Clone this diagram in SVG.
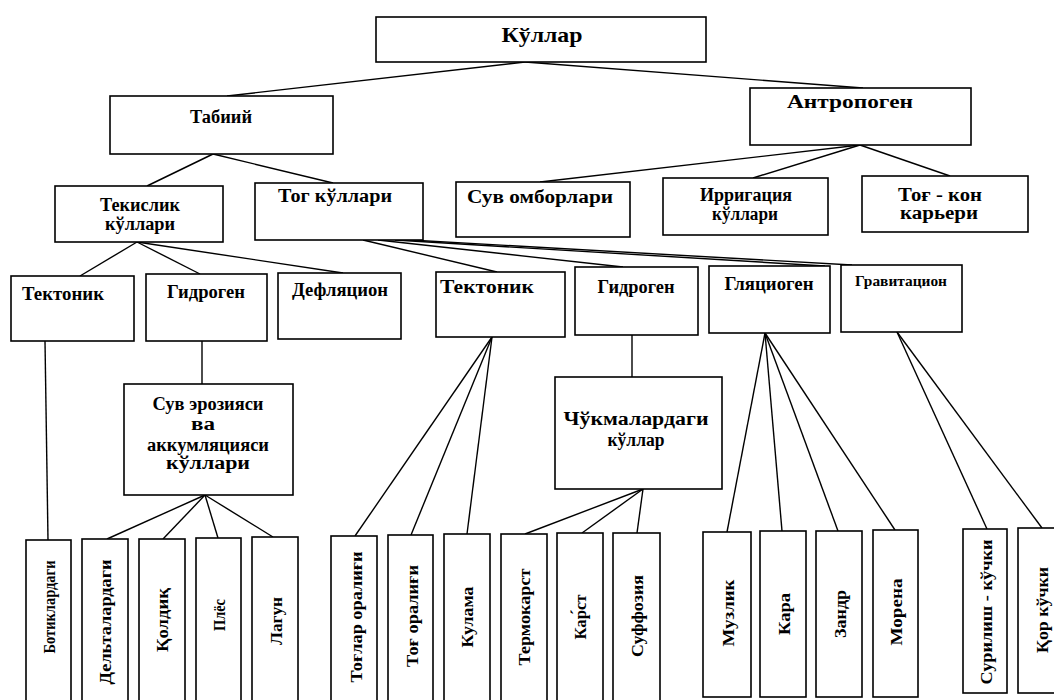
<svg xmlns="http://www.w3.org/2000/svg" width="1054" height="700" viewBox="0 0 1054 700">
<style>
.box{fill:#fff;stroke:#000;stroke-width:1.6}
.ln{fill:none;stroke:#000;stroke-width:1.4}
.t{font-family:"Liberation Serif","Times New Roman",serif;font-weight:bold;font-size:18px;text-anchor:middle;fill:#000}
.v{font-family:"Liberation Serif","Times New Roman",serif;font-weight:bold;font-size:17px;text-anchor:middle;dominant-baseline:central;fill:#000}
</style>
<rect width="1054" height="700" fill="#fff"/>
<g id="connectors" class="ln">
<path d="M525,62 L227,96"/>
<path d="M525,62 L863,88"/>
<path d="M213,154 L147,186"/>
<path d="M213,154 L333,183"/>
<path d="M860,145 L540,182"/>
<path d="M860,145 L753,178"/>
<path d="M860,145 L950,176"/>
<path d="M137,242 L80,276"/>
<path d="M137,242 L200,274"/>
<path d="M137,242 L343,273"/>
<path d="M363,240 L497,272"/>
<path d="M378,240 L623,267"/>
<path d="M395,240 L825,266"/>
<path d="M410,240 L852,265"/>
<path d="M202,341 L202,384"/>
<path d="M45,341 L48,540"/>
<path d="M205,495 L107,539"/>
<path d="M205,495 L163,539"/>
<path d="M205,495 L218,538"/>
<path d="M205,495 L273,537"/>
<path d="M492,337 L355,536"/>
<path d="M492,337 L411,535"/>
<path d="M492,337 L467,534"/>
<path d="M632,335 L632,377"/>
<path d="M643,489 L525,534"/>
<path d="M643,489 L582,533"/>
<path d="M643,489 L637,533"/>
<path d="M765,333 L727,532"/>
<path d="M765,333 L782,531"/>
<path d="M765,333 L838,531"/>
<path d="M765,333 L895,530"/>
<path d="M897,332 L987,529"/>
<path d="M897,332 L1042,528"/>
</g>
<g id="n-kullar"><rect class="box" x="376" y="17" width="330" height="45"/><text class="t" x="542" y="42" style="font-size:21px" textLength="81" lengthAdjust="spacingAndGlyphs">Кўллар</text></g>
<g id="n-tabiiy"><rect class="box" x="110" y="96" width="223" height="58"/><text class="t" x="221" y="123" textLength="62" lengthAdjust="spacingAndGlyphs">Табиий</text></g>
<g id="n-antropogen"><rect class="box" x="750" y="88" width="221" height="57"/><text class="t" x="850" y="108" textLength="126" lengthAdjust="spacingAndGlyphs">Антропоген</text></g>
<g id="n-tekislik"><rect class="box" x="55" y="186" width="168" height="56"/><text class="t" x="140" y="211" textLength="80" lengthAdjust="spacingAndGlyphs">Текислик</text><text class="t" x="140" y="230" textLength="70" lengthAdjust="spacingAndGlyphs">кўллари</text></g>
<g id="n-tog"><rect class="box" x="255" y="183" width="168" height="57"/><text class="t" x="335" y="202" textLength="114" lengthAdjust="spacingAndGlyphs">Тог кўллари</text></g>
<g id="n-suv-ombor"><rect class="box" x="456" y="182" width="174" height="55"/><text class="t" x="540" y="203" textLength="146" lengthAdjust="spacingAndGlyphs">Сув омборлари</text></g>
<g id="n-irrigatsiya"><rect class="box" x="663" y="178" width="165" height="57"/><text class="t" x="746" y="201" textLength="92" lengthAdjust="spacingAndGlyphs">Ирригация</text><text class="t" x="745" y="220" textLength="66" lengthAdjust="spacingAndGlyphs">кўллари</text></g>
<g id="n-tog-kon"><rect class="box" x="862" y="176" width="166" height="56"/><text class="t" x="940" y="201" textLength="84" lengthAdjust="spacingAndGlyphs">Тоғ - кон</text><text class="t" x="939" y="219" textLength="78" lengthAdjust="spacingAndGlyphs">карьери</text></g>
<g id="n-tektonik1"><rect class="box" x="11" y="276" width="123" height="65"/><text class="t" x="63" y="300" textLength="82" lengthAdjust="spacingAndGlyphs">Тектоник</text></g>
<g id="n-gidrogen1"><rect class="box" x="146" y="274" width="121" height="67"/><text class="t" x="206" y="298" textLength="78" lengthAdjust="spacingAndGlyphs">Гидроген</text></g>
<g id="n-deflyatsion"><rect class="box" x="278" y="273" width="123" height="66"/><text class="t" x="340" y="296" textLength="96" lengthAdjust="spacingAndGlyphs">Дефляцион</text></g>
<g id="n-tektonik2"><rect class="box" x="436" y="272" width="129" height="65"/><text class="t" x="487" y="293" textLength="94" lengthAdjust="spacingAndGlyphs">Тектоник</text></g>
<g id="n-gidrogen2"><rect class="box" x="575" y="267" width="123" height="68"/><text class="t" x="636" y="293" textLength="77" lengthAdjust="spacingAndGlyphs">Гидроген</text></g>
<g id="n-glyatsiogen"><rect class="box" x="709" y="266" width="121" height="67"/><text class="t" x="769" y="290" textLength="89" lengthAdjust="spacingAndGlyphs">Гляциоген</text></g>
<g id="n-gravitatsion"><rect class="box" x="841" y="265" width="121" height="67"/><text class="t" x="901" y="286" style="font-size:15px" textLength="92" lengthAdjust="spacingAndGlyphs">Гравитацион</text></g>
<g id="n-suv-eroziya"><rect class="box" x="124" y="384" width="169" height="111"/><text class="t" x="208" y="410" textLength="111" lengthAdjust="spacingAndGlyphs">Сув эрозияси</text><text class="t" x="203" y="430" textLength="24" lengthAdjust="spacingAndGlyphs">ва</text><text class="t" x="208" y="451" textLength="122" lengthAdjust="spacingAndGlyphs">аккумляцияси</text><text class="t" x="208" y="469" textLength="84" lengthAdjust="spacingAndGlyphs">кўллари</text></g>
<g id="n-chukma"><rect class="box" x="555" y="377" width="167" height="112"/><text class="t" x="636" y="425" textLength="145" lengthAdjust="spacingAndGlyphs">Чўкмалардаги</text><text class="t" x="636" y="446" textLength="57" lengthAdjust="spacingAndGlyphs">кўллар</text></g>
<g id="n-botik"><rect class="box" x="26" y="540" width="45" height="165"/><text class="v" transform="translate(49,607) rotate(-90)" textLength="93" lengthAdjust="spacingAndGlyphs">Ботиклардаги</text></g>
<g id="n-delta"><rect class="box" x="82" y="539" width="46" height="166"/><text class="v" transform="translate(105,622) rotate(-90)" textLength="125" lengthAdjust="spacingAndGlyphs">Дельталардаги</text></g>
<g id="n-koldik"><rect class="box" x="139" y="539" width="46" height="166"/><text class="v" transform="translate(162,620) rotate(-90)" textLength="64" lengthAdjust="spacingAndGlyphs">Қолдиқ</text></g>
<g id="n-ples"><rect class="box" x="196" y="538" width="45" height="167"/><text class="v" transform="translate(219,615) rotate(-90)" textLength="32" lengthAdjust="spacingAndGlyphs">Плёс</text></g>
<g id="n-lagun"><rect class="box" x="252" y="537" width="46" height="168"/><text class="v" transform="translate(276,621) rotate(-90)" textLength="48" lengthAdjust="spacingAndGlyphs">Лагун</text></g>
<g id="n-toglar-oraligi"><rect class="box" x="331" y="536" width="46" height="169"/><text class="v" transform="translate(356,617) rotate(-90)" textLength="131" lengthAdjust="spacingAndGlyphs">Тоғлар оралиғи</text></g>
<g id="n-tog-oraligi"><rect class="box" x="388" y="535" width="45" height="170"/><text class="v" transform="translate(412,616) rotate(-90)" textLength="102" lengthAdjust="spacingAndGlyphs">Тоғ оралиғи</text></g>
<g id="n-kulama"><rect class="box" x="444" y="534" width="46" height="171"/><text class="v" transform="translate(467,617) rotate(-90)" textLength="61" lengthAdjust="spacingAndGlyphs">Кулама</text></g>
<g id="n-termokarst"><rect class="box" x="501" y="534" width="46" height="171"/><text class="v" transform="translate(524,617) rotate(-90)" textLength="97" lengthAdjust="spacingAndGlyphs">Термокарст</text></g>
<g id="n-karst"><rect class="box" x="557" y="533" width="46" height="172"/><text class="v" transform="translate(580,617) rotate(-90)" textLength="45" lengthAdjust="spacingAndGlyphs">Кар́ст</text></g>
<g id="n-suffoziya"><rect class="box" x="613" y="533" width="47" height="172"/><text class="v" transform="translate(637,616) rotate(-90)" textLength="82" lengthAdjust="spacingAndGlyphs">Суффозия</text></g>
<g id="n-muzlik"><rect class="box" x="703" y="532" width="48" height="165"/><text class="v" transform="translate(728,613) rotate(-90)" textLength="67" lengthAdjust="spacingAndGlyphs">Музлик</text></g>
<g id="n-kara"><rect class="box" x="760" y="531" width="46" height="166"/><text class="v" transform="translate(784,614) rotate(-90)" textLength="42" lengthAdjust="spacingAndGlyphs">Кара</text></g>
<g id="n-zandr"><rect class="box" x="816" y="531" width="46" height="166"/><text class="v" transform="translate(840,614) rotate(-90)" textLength="48" lengthAdjust="spacingAndGlyphs">Зандр</text></g>
<g id="n-morena"><rect class="box" x="873" y="530" width="45" height="167"/><text class="v" transform="translate(896,612) rotate(-90)" textLength="67" lengthAdjust="spacingAndGlyphs">Морена</text></g>
<g id="n-surilish"><rect class="box" x="963" y="529" width="44" height="164"/><text class="v" transform="translate(986,612) rotate(-90)" textLength="145" lengthAdjust="spacingAndGlyphs">Сурилиш - кўчки</text></g>
<g id="n-kor-kuchki"><rect class="box" x="1018" y="528" width="46" height="165"/><text class="v" transform="translate(1042,610) rotate(-90)" textLength="86" lengthAdjust="spacingAndGlyphs">Қор кўчки</text></g>
</svg>
